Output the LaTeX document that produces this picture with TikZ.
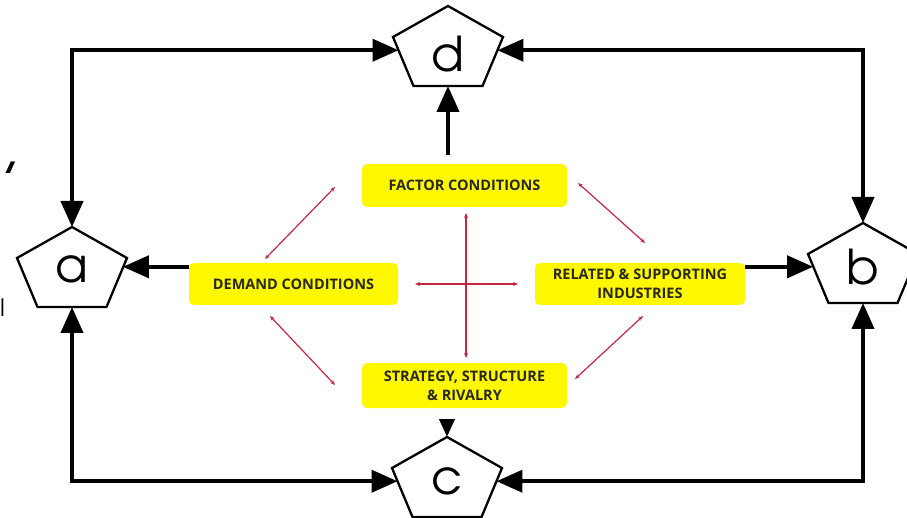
\documentclass[tikz,border=0pt]{standalone}
\usepackage{fontspec}
\newfontfamily\boxfont{Open Sans}
\newfontfamily\letterfont{TeX Gyre Adventor}
\usetikzlibrary{arrows.meta,calc}
\definecolor{boxyellow}{RGB}{255,248,0}
\definecolor{boxtext}{RGB}{40,40,30}
\definecolor{redarrow}{RGB}{196,40,64}
\tikzset{
  pentline/.style={line width=2.3pt, line join=miter},
  letter/.style={font=\letterfont\fontsize{48}{48}\selectfont, anchor=base, inner sep=0pt},
  ybox/.style={fill=boxyellow, rounded corners=5pt, align=center, text=boxtext,
    font=\boxfont\bfseries\fontsize{14.5}{19}\selectfont, inner sep=0pt},
  blk/.style={line width=4pt},
  bigtip/.style={-{Triangle[length=26pt,width=22pt]}},
  bothtip/.style={{Triangle[length=26pt,width=22pt]}-{Triangle[length=26pt,width=22pt]}},
  redlink/.style={draw=redarrow, line width=1.2pt, {Stealth[length=5pt,width=4pt]}-{Stealth[length=5pt,width=4pt]}},
}
% name, cx, top, label, baseline offset
\newcommand\mypent[5]{%
  \coordinate (#1-t) at (#2,#3);
  \coordinate (#1-ul) at (#2-55,#3+31);
  \coordinate (#1-ur) at (#2+55,#3+31);
  \coordinate (#1-bl) at (#2-34.5,#3+80);
  \coordinate (#1-br) at (#2+34.5,#3+80);
  \coordinate (#1-bot) at (#2,#3+80);
  \coordinate (#1-w) at ($(#1-ul)!0.27!(#1-bl)$);
  \coordinate (#1-e) at ($(#1-ur)!0.27!(#1-br)$);
  \coordinate (#1-wa) at ($(#1-ul)!0.25!(#1-bl)$);
  \coordinate (#1-ea) at ($(#1-ur)!0.2!(#1-br)$);
  \draw[pentline] (#1-t) -- (#1-ur) -- (#1-br) -- (#1-bl) -- (#1-ul) -- cycle;
  \node[letter] (#1) at (#2,#3+#5) {#4};
}
\begin{document}
\begin{tikzpicture}[x=1pt,y=-1pt]
\useasboundingbox (0,0) rectangle (907,518);

% pentagons
\mypent{d}{448}{6}{d}{66}
\mypent{a}{72}{227}{a}{56}
\mypent{b}{863}{223}{b}{62}
\mypent{c}{447}{437}{c}{57}

% yellow boxes
\node[ybox, minimum width=205pt, minimum height=43pt] (factor) at (464.5,185.5) {FACTOR CONDITIONS};
\node[ybox, minimum width=209pt, minimum height=42pt] (demand) at (293.5,284) {DEMAND CONDITIONS};
\node[ybox, minimum width=210pt, minimum height=42pt] (related) at (640,284) {RELATED \& SUPPORTING\\INDUSTRIES};
\node[ybox, minimum width=205pt, minimum height=45pt] (strategy) at (464.5,385.5) {STRATEGY, STRUCTURE\\\& RIVALRY};

% outer loop
\draw[blk, bothtip] (a-t) |- (d-w);
\draw[blk, bothtip] (b-t) |- (d-e);
\draw[blk, bothtip] (a-bot) |- (c-w);
\draw[blk, bothtip] (b-bot) |- (c-e);

% box to pentagon arrows
\coordinate (fd) at ($(factor.north -| d-t)+(0,-9)$);
\draw[blk, bigtip] (fd) -- (d-bot);
\coordinate (da) at ($(demand.north west)+(0,4)$);
\draw[blk, bigtip] (da) -- (da -| a-ea);
\coordinate (rb) at ($(related.north east)+(0,4)$);
\draw[blk, bigtip] (rb) -- (rb -| b-wa);
\coordinate (sc) at ($(strategy.south -| c-t)+(0,11)$);
\draw[blk, -{Triangle[length=18pt,width=15pt]}] (sc) -- (c-t);

% red links
\coordinate (v1) at (466,213); \coordinate (v2) at (466,358);
\coordinate (h1) at (415,284); \coordinate (h2) at (518,284);
\draw[redlink] (v1) -- (v2);
\draw[redlink] (h1) -- (h2);
\coordinate (ul1) at (265,259); \coordinate (ul2) at (335,187);
\coordinate (ur1) at (578,183); \coordinate (ur2) at (645,243);
\coordinate (ll1) at (270,316); \coordinate (ll2) at (335,385);
\coordinate (lr1) at (575,379); \coordinate (lr2) at (643,316);
\draw[redlink] (ul1) -- (ul2);
\draw[redlink] (ur1) -- (ur2);
\draw[redlink] (ll1) -- (ll2);
\draw[redlink] (lr1) -- (lr2);

% cut-off text fragments at the left edge
\node[font=\letterfont\fontsize{60}{60}\selectfont, anchor=base west, inner sep=0pt] (frag1) at (0,170) {,};
\node[font=\letterfont\fontsize{24}{24}\selectfont, anchor=base east, inner sep=0pt] (frag2) at (5,317) {l};
\end{tikzpicture}
\end{document}
